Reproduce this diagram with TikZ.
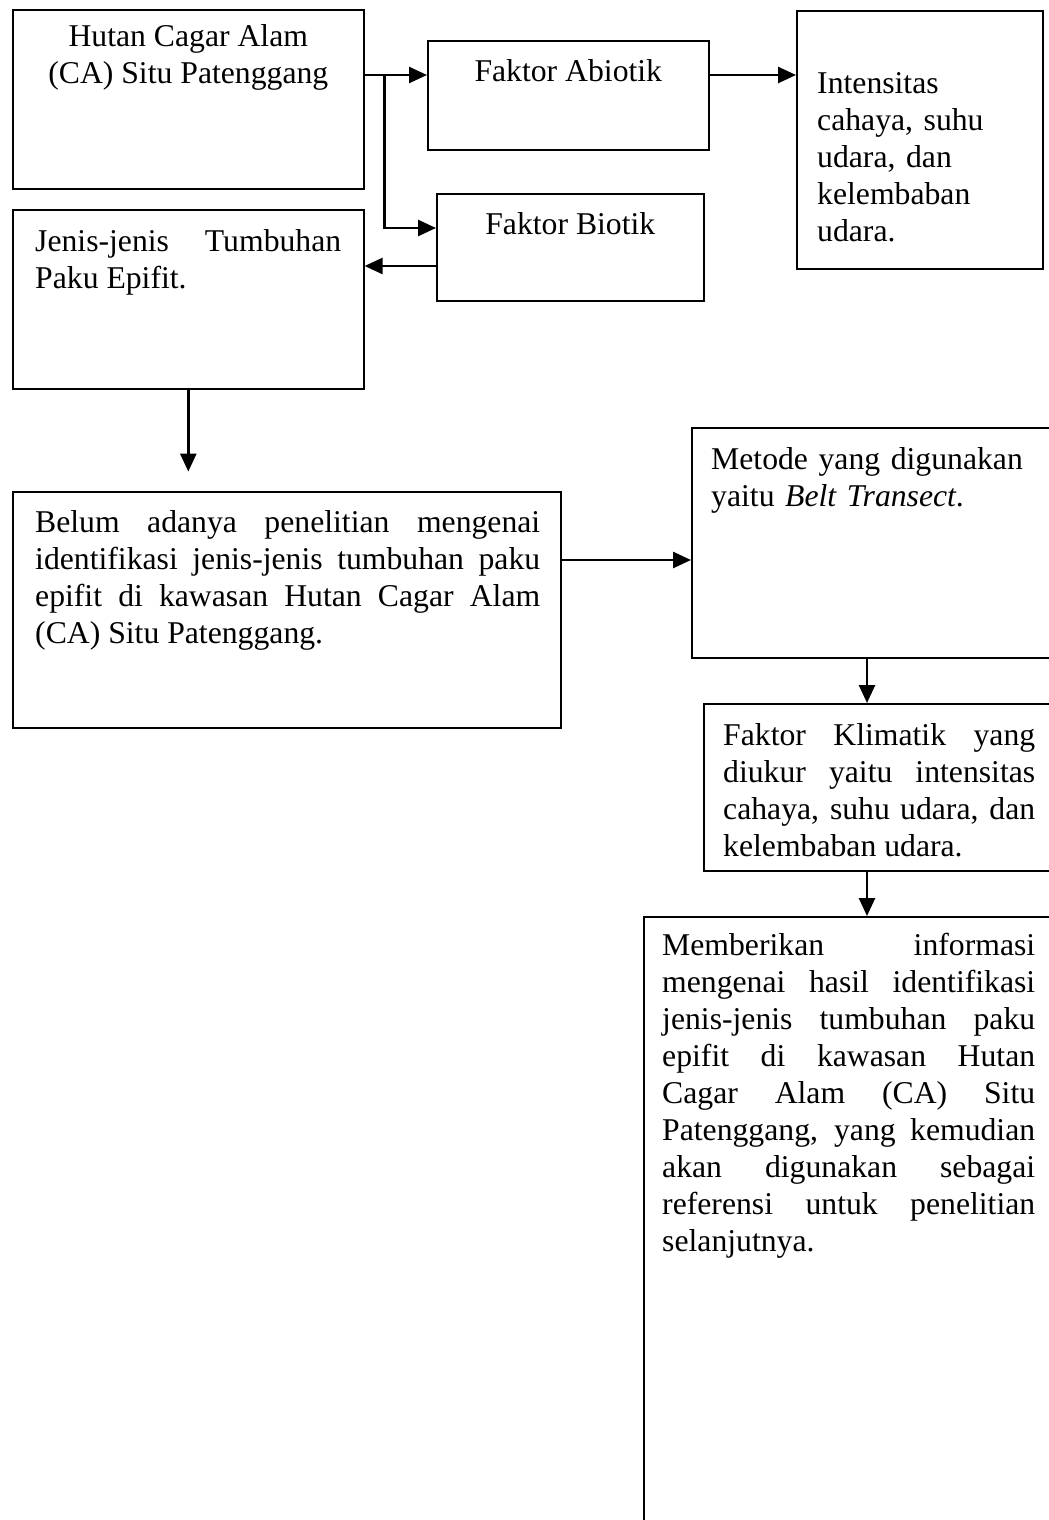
\documentclass[tikz,border=0pt]{standalone}
\usepackage{fontspec}
\setmainfont{Liberation Serif}
\usetikzlibrary{arrows.meta,positioning,calc}

\begin{document}
\begin{tikzpicture}[x=1pt,y=-1pt,
  every node/.style={font=\fontsize{31.7}{37}\selectfont},
  box/.style={draw,line width=1.6pt,anchor=north west,inner sep=0pt},
  txt/.style={anchor=north west,inner sep=0pt,text width=#1,align=left,
    execute at begin node=\strut},
  jtxt/.style={anchor=north west,inner sep=0pt,text width=#1,align=justify,
    execute at begin node={\tolerance=10000\hbadness=10000\strut}},
  ctr/.style={anchor=north,inner sep=0pt,align=center,execute at begin node=\strut},
  arr/.style={line width=2.6pt,-{Triangle[length=18pt,width=16pt]}}]
  \path[fill=white,use as bounding box] (0,0) rectangle (1049,1520);
  % upper row
  \node[box,minimum width=351pt,minimum height=179pt] (hutan) at (12,9) {};
  \node[box,minimum width=281pt,minimum height=109pt] (abiotik) at (427,40) {};
  \node[box,minimum width=246pt,minimum height=258pt] (intensitas) at (796,10) {};
  \node[box,minimum width=267pt,minimum height=107pt] (biotik) at (436,193) {};
  \node[box,minimum width=351pt,minimum height=179pt] (jenis) at (12,209) {};
  \node[ctr] at ([shift={(0,15)}]hutan.north) {Hutan Cagar Alam\\(CA) Situ Patenggang};
  \node[ctr] at ([shift={(0,15)}]abiotik.north) {Faktor Abiotik};
  \node[ctr] at ([shift={(0,15)}]biotik.north) {Faktor Biotik};
  \node[txt=220pt] at ([shift={(21,57)}]intensitas.north west)
    {Intensitas\\cahaya, suhu\\udara, dan\\kelembaban\\udara.};
  \node[jtxt=306pt] at ([shift={(23,16)}]jenis.north west)
    {Jenis-jenis Tumbuhan\break Paku Epifit.};
  % middle and lower boxes
  \node[box,minimum width=548pt,minimum height=236pt] (belum) at (12,491) {};
  \node[box,minimum width=364pt,minimum height=230pt] (metode) at (691,427) {};
  \node[box,minimum width=352pt,minimum height=167pt] (klimatik) at (703,703) {};
  \node[box,minimum width=412pt,minimum height=609pt] (memberikan) at (643,916) {};
  \node[jtxt=505pt] at ([shift={(23,15)}]belum.north west)
    {Belum adanya penelitian mengenai\break
     identifikasi jenis-jenis tumbuhan paku\break
     epifit di kawasan Hutan Cagar Alam\break
     (CA) Situ Patenggang.};
  \node[txt=330pt] at ([shift={(20,16)}]metode.north west)
    {Metode yang digunakan\\yaitu \textit{Belt Transect}.};
  \node[jtxt=312pt] at ([shift={(20,16)}]klimatik.north west)
    {Faktor Klimatik yang\break
     diukur yaitu intensitas\break
     cahaya, suhu udara, dan\break
     kelembaban udara.};
  \node[jtxt=373pt] at ([shift={(19,13)}]memberikan.north west)
    {Memberikan informasi\break
     mengenai hasil identifikasi\break
     jenis-jenis tumbuhan paku\break
     epifit di kawasan Hutan\break
     Cagar Alam (CA) Situ\break
     Patenggang, yang kemudian\break
     akan digunakan sebagai\break
     referensi untuk penelitian\break
     selanjutnya.};
  % arrows
  \draw[arr] ([shift={(0,66)}]hutan.north east) coordinate (fork) -- (fork -| abiotik.west);
  \draw[arr] ([shift={(20,0)}]fork) |- ([shift={(0,35)}]biotik.north west);
  \draw[arr] ([shift={(0,35)}]abiotik.north east) coordinate (ab) -- (ab -| intensitas.west);
  \draw[arr] ([shift={(0,73)}]biotik.north west) coordinate (bi) -- (bi -| jenis.east);
  \coordinate (gap) at ([shift={(0,82)}]jenis.south);
  \draw[arr] (jenis.south) -- (gap);
  \draw[arr] ([shift={(0,69)}]belum.north east) coordinate (be) -- (be -| metode.west);
  \draw[arr] ([shift={(176,0)}]metode.south west) coordinate (me) -- (me |- klimatik.north);
  \draw[arr] ([shift={(164,0)}]klimatik.south west) coordinate (kl) -- (kl |- memberikan.north);
\end{tikzpicture}
\end{document}
